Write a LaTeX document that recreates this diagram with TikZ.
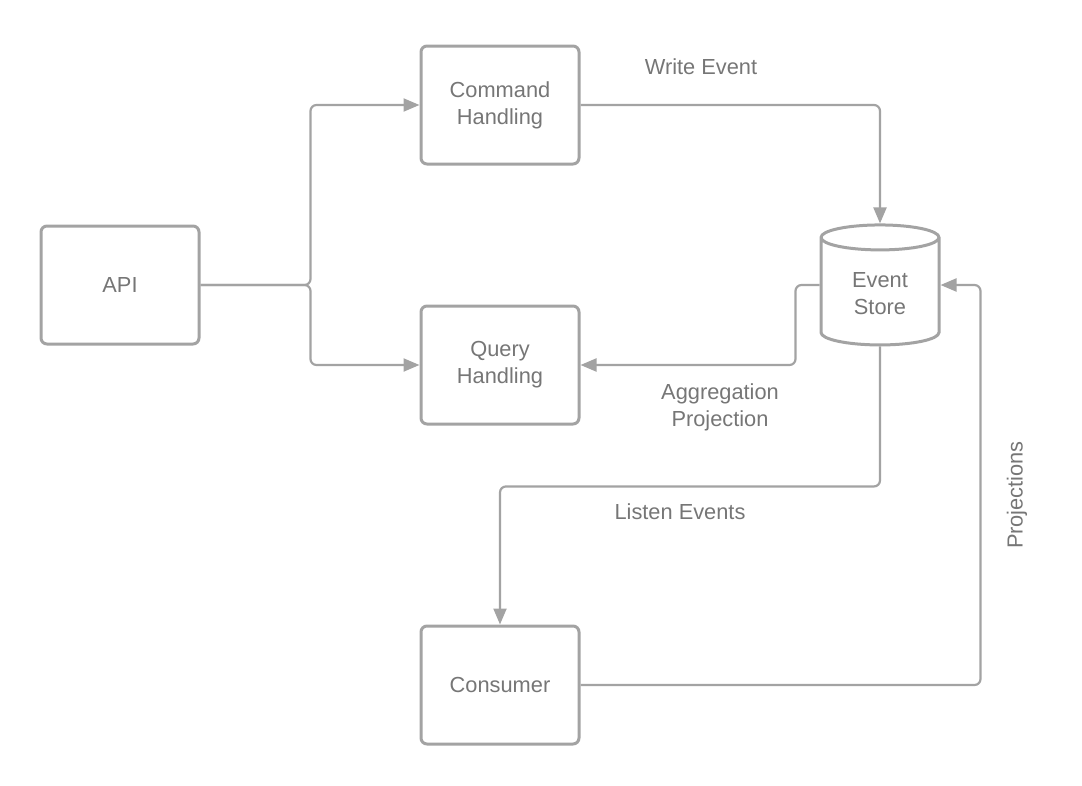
\documentclass[tikz,border=0pt]{standalone}
\usepackage{fontspec}
\setmainfont{Liberation Sans}
\usetikzlibrary{arrows.meta, positioning, shapes.geometric}
\definecolor{lineGray}{HTML}{A3A3A3}
\definecolor{textGray}{HTML}{767676}

\begin{document}
\begin{tikzpicture}[x=1pt, y=-1pt,
        box/.style={rectangle, draw=lineGray, line width=3pt, rounded corners=6pt, fill=white, minimum width=158pt, minimum height=118pt, align=center, text=textGray, font=\fontsize{21.8}{27}\selectfont},
        store/.style={cylinder, shape border rotate=90, aspect=0.4, draw=lineGray, line width=3pt, fill=white, minimum width=118pt, minimum height=120pt, align=center, text=textGray, font=\fontsize{21.8}{27}\selectfont},
        link/.style={-{Triangle[length=16pt, width=13pt]}, draw=lineGray, line width=2.2pt, rounded corners=6pt},
        lbl/.style={text=textGray, align=center, font=\fontsize{21.8}{27}\selectfont}
    ]
        \useasboundingbox (0,0) rectangle (1082,785);

        \node[box] (api) at (120,285) {API};
        \node[box] (cmd) at (500,105) {Command\\Handling};
        \node[box] (qry) at (500,365) {Query\\Handling};
        \node[box] (cons) at (500,685) {Consumer};
        \node[store] (es) at (880,294) {Event\\Store};

        % API to handlers
        \draw[link] (api.east) -- ++(110,0) |- (cmd.west);
        \draw[link] (api.east) -- ++(110,0) |- (qry.west);

        % Event store
        \draw[link] (cmd.east) -| (es.north);
        \draw[link] ([yshift=9pt]es.west) -- ++(-24,0) |- (qry.east);
        \draw[link] (es.south) -- ++(0,140) -| (cons.north);
        \draw[link] (cons.east) -- ++(400,0) |- ([yshift=9pt]es.east);

        % Labels
        \node[lbl] (writeLbl) at (701,67) {Write Event};
        \node[lbl] (aggLbl) at (720,407) {Aggregation\\Projection};
        \node[lbl] (listenLbl) at (680,512) {Listen Events};
        \node[lbl, rotate=90] (projLbl) at (1017,495) {Projections};
    \end{tikzpicture}
\end{document}
